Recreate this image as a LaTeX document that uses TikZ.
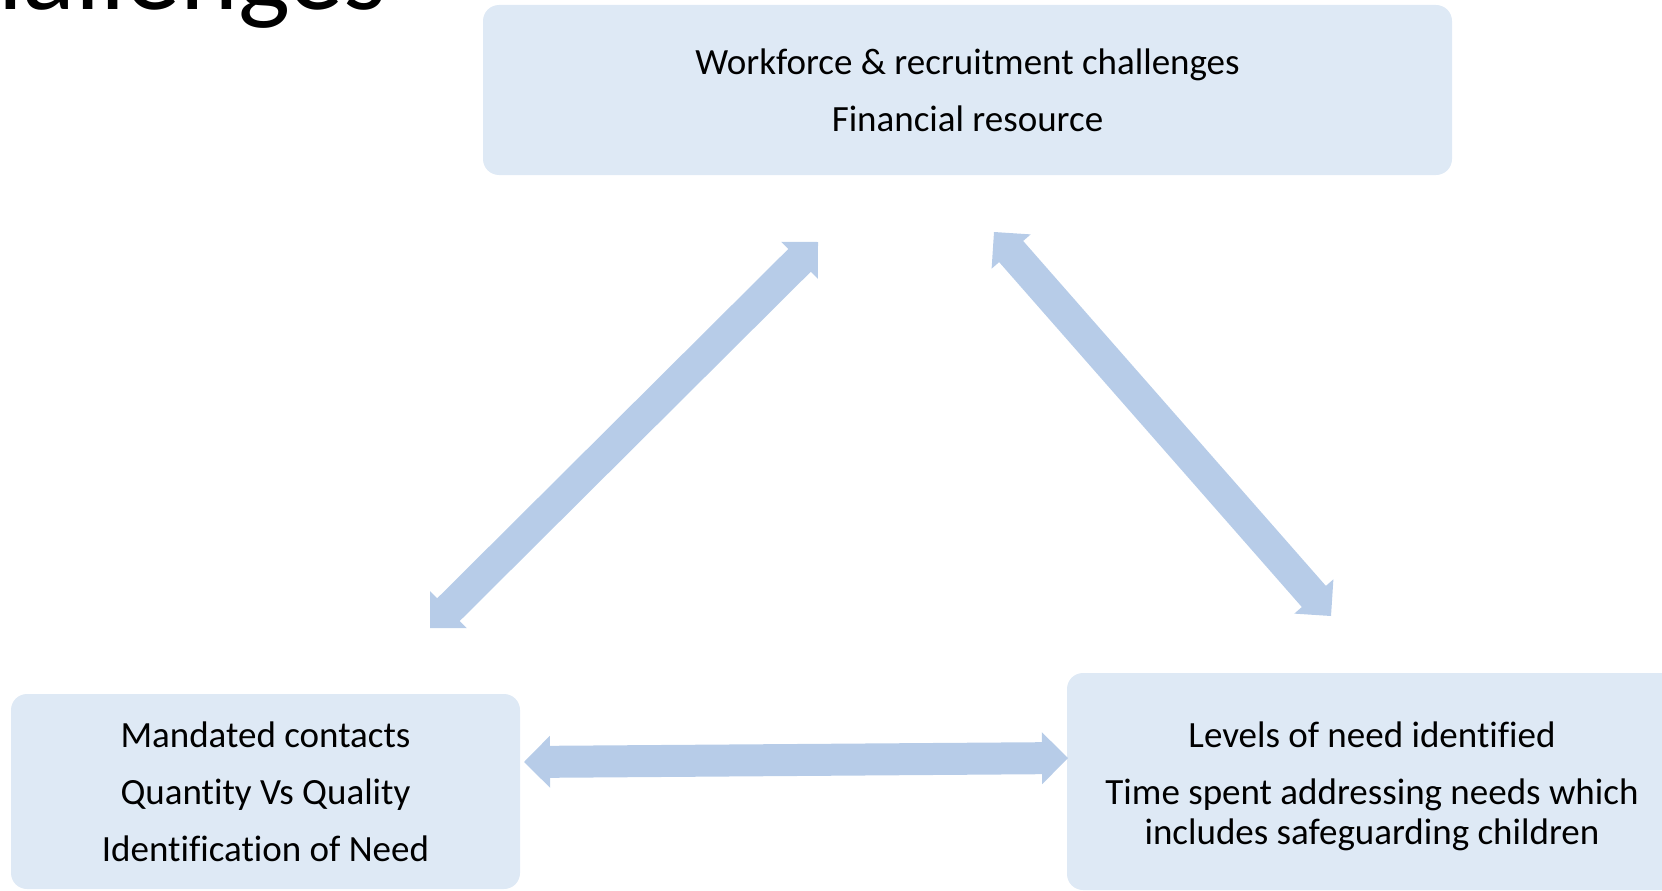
\documentclass[tikz,border=0pt]{standalone}
\usepackage{fontspec}
\setmainfont{Carlito}[Ligatures=NoCommon]
\usetikzlibrary{calc}
\definecolor{boxfill}{RGB}{222,233,245}
\definecolor{arrowfill}{RGB}{183,204,232}
\tikzset{
  boxnode/.style={fill=boxfill, rounded corners=16pt, align=center, inner sep=0pt,
    font=\fontsize{37}{40}\selectfont, text=black},
  textnode/.style={align=center, inner sep=0pt, font=\fontsize{37}{40}\selectfont, text=black},
}
\newcommand\blockarrow[2]{%
  \coordinate (#1base) at ($(#1)!26pt!(#2)$);
  \coordinate (#2base) at ($(#2)!26pt!(#1)$);
  \fill[arrowfill] (#1) -- ($(#1base)!26pt!90:(#2)$) -- ($(#1base)!16pt!90:(#2)$)
    -- ($(#2base)!16pt!-90:(#1)$) -- ($(#2base)!26pt!-90:(#1)$) -- (#2)
    -- ($(#2base)!26pt!90:(#1)$) -- ($(#2base)!16pt!90:(#1)$)
    -- ($(#1base)!16pt!-90:(#2)$) -- ($(#1base)!26pt!-90:(#2)$) -- cycle;
}
\begin{document}
\begin{tikzpicture}[x=1pt,y=-1pt]
\useasboundingbox (0,0) rectangle (1662,891);
\clip (0,0) rectangle (1662,891);
\node[anchor=base east, inner sep=0pt, font=\fontsize{110}{110}\selectfont] (title) at (387,10) {Challenges};
\node[boxnode, minimum width=969pt, minimum height=170pt] (top) at (967.5,90)
  {Workforce \& recruitment challenges\\[17pt]Financial resource};
\node[boxnode, minimum width=509pt, minimum height=195pt] (left) at (265.5,791.5)
  {Mandated contacts\\[17pt]Quantity Vs Quality\\[17pt]Identification of Need};
\node[boxnode, minimum width=610pt, minimum height=217pt] (right) at (1372,781.5) {};
\node[textnode, yshift=-5pt] (righttext) at (right.center)
  {Levels of need identified\\[17pt]Time spent addressing needs which\\includes safeguarding children};
\coordinate (pa) at (818,242);
\coordinate (pb) at (430,628);
\coordinate (qa) at (994,232);
\coordinate (qb) at (1331,616);
\coordinate (ra) at (524,762);
\coordinate (rb) at (1068,758);
\blockarrow{pa}{pb}
\blockarrow{qa}{qb}
\blockarrow{ra}{rb}
\end{tikzpicture}
\end{document}
